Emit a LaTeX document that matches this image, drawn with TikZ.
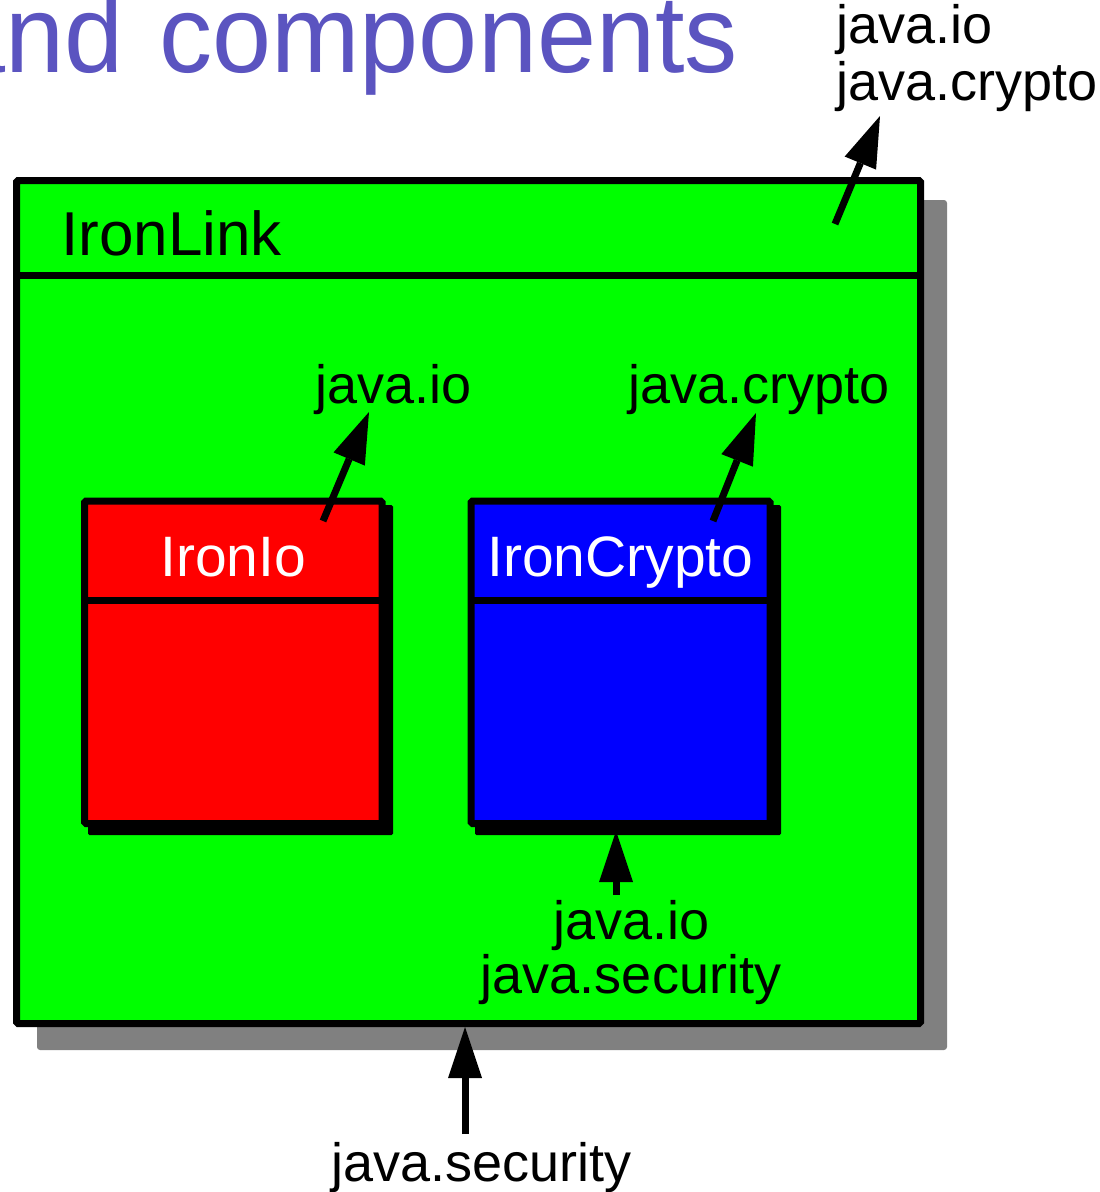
\documentclass[tikz,border=0pt]{standalone}
\usepackage{fontspec}
\setmainfont{Liberation Sans}
\usetikzlibrary{arrows.meta}
\definecolor{titleblue}{RGB}{91,84,192}
\definecolor{linkgreen}{RGB}{0,255,0}
\definecolor{compred}{RGB}{255,0,0}
\definecolor{compblue}{RGB}{0,0,255}
\definecolor{shadowgray}{RGB}{128,128,128}
\begin{document}
\begin{tikzpicture}[x=1pt,y=-1pt,
  compbox/.style={draw=black, line width=7pt, inner sep=0pt, outer sep=0pt,
    anchor=north west, rounded corners=1.5pt},
  divider/.style={draw=black, line width=7pt},
  pkgtext/.style={inner sep=0pt, font=\fontsize{54}{60}\selectfont},
  compname/.style={inner sep=0pt, anchor=base, text=white, font=\fontsize{57}{64}\selectfont},
  dep/.style={draw=black, line width=7pt,
    -{Triangle[length=51pt,width=34pt,line width=0pt]}},
]
\clip (0,0) rectangle (1100,1192);

% heading
\node[anchor=base west, inner sep=0pt, text=titleblue,
      font=\fontsize{110}{120}\selectfont] (title) at (-54,72)
      {\scalebox{0.965}[1]{and\hspace{7pt} components}};

% IronLink: shadow, box, header divider, name
\fill[shadowgray, rounded corners=3pt] (37,200) rectangle (947,1050);
\node[compbox, fill=linkgreen, minimum width=904pt, minimum height=843pt] (link) at (16.5,180.5) {};
\coordinate (linkrule) at (0,275.5);
\draw[divider] (link.west |- linkrule) -- (link.east |- linkrule);
\node[inner sep=0pt, anchor=base west, font=\fontsize{62}{70}\selectfont] (linkname) at (61,255) {IronLink};

% IronIo component
\fill[black, rounded corners=1.5pt] (88,505) rectangle (393,835);
\node[compbox, fill=compred, minimum width=297.5pt, minimum height=322.5pt] (io) at (84.5,501) {};
\coordinate (iorule) at (0,600);
\draw[divider] (io.west |- iorule) -- (io.east |- iorule);
\node[compname] (ioname) at (233.25,576) {IronIo};

% IronCrypto component
\fill[black, rounded corners=1.5pt] (475,505) rectangle (781,835);
\node[compbox, fill=compblue, minimum width=299pt, minimum height=322.5pt] (crypto) at (471,501) {};
\coordinate (cryptorule) at (0,600);
\draw[divider] (crypto.west |- cryptorule) -- (crypto.east |- cryptorule);
\node[compname] (cryptoname) at (620.5,576) {IronCrypto};

% package labels
\node[pkgtext, anchor=base west] (linkoutA) at (836.5,43.5) {java.io};
\node[pkgtext, anchor=base west] (linkoutB) at (836.5,100) {java.crypto};
\node[pkgtext, anchor=base west] (ioout) at (315.5,403.5) {java.io};
\node[pkgtext, anchor=base west] (cryptoout) at (628.5,403.5) {java.crypto};
\node[pkgtext, anchor=base] (cryptoinA) at (631.5,939.5) {java.io};
\node[pkgtext, anchor=base] (cryptoinB) at (631,993) {java.security};
\node[pkgtext, anchor=base] (linkin) at (481.5,1181.5) {java.security};

% connector end points
\coordinate (linkTail) at (835,224);
\coordinate (linkTip) at (880,116);
\coordinate (ioTail) at (323,521);
\coordinate (ioTip) at (369,412);
\coordinate (cryptoTail) at (713,521);
\coordinate (cryptoTip) at (756,413);
\coordinate (cryptoInTail) at (616,895);
\coordinate (cryptoInTip) at (616,831);
\coordinate (linkInTail) at (465,1134);
\coordinate (linkInTip) at (465,1027);

% exported and imported packages
\draw[dep] (linkTail) -- (linkTip);
\draw[dep] (ioTail) -- (ioTip);
\draw[dep] (cryptoTail) -- (cryptoTip);
\draw[dep] (cryptoInTail) -- (cryptoInTip);
\draw[dep] (linkInTail) -- (linkInTip);
\end{tikzpicture}
\end{document}
